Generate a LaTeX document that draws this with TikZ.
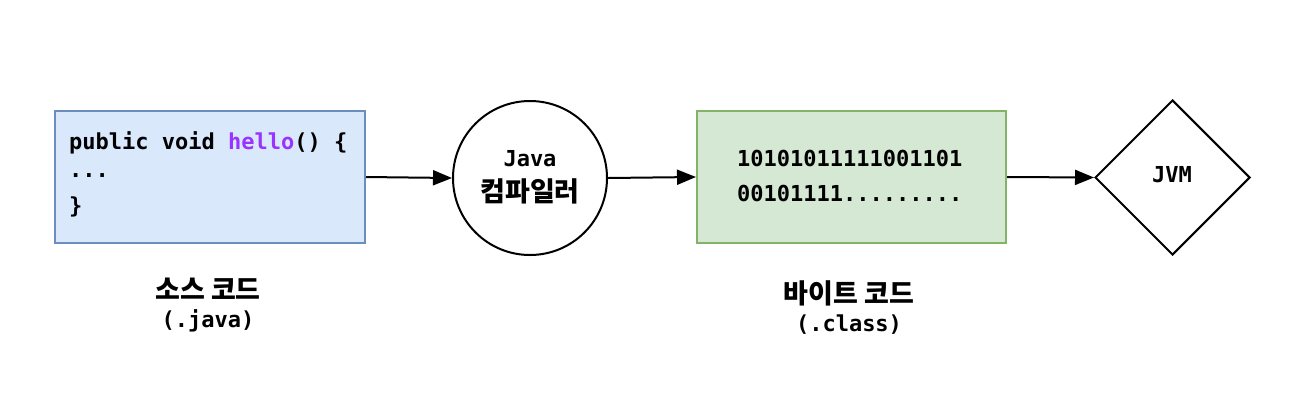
\documentclass[tikz,border=0pt]{standalone}
\usepackage{fontspec}
\setmonofont{DejaVu Sans Mono}
\newfontfamily\krfont{Noto Sans CJK KR}
\usetikzlibrary{shapes.geometric,arrows.meta}
\definecolor{bluefill}{HTML}{DAE8FC}
\definecolor{blueline}{HTML}{6C8EBF}
\definecolor{greenfill}{HTML}{D5E8D4}
\definecolor{greenline}{HTML}{82B366}
\definecolor{hellocol}{HTML}{9933FF}
\tikzset{
  codebox/.style={draw=blueline, fill=bluefill, line width=2pt, minimum width=310pt, minimum height=132pt, inner sep=0pt},
  bytebox/.style={draw=greenline, fill=greenfill, line width=2pt, minimum width=309pt, minimum height=132pt, inner sep=0pt},
  compiler/.style={draw=black, circle, line width=2pt, minimum size=154pt, inner sep=0pt},
  vmshape/.style={draw=black, diamond, line width=2pt, minimum width=155pt, minimum height=155pt, inner sep=0pt},
  txt/.style={font=\ttfamily\bfseries\fontsize{22}{32}\selectfont, inner sep=0pt},
  lbl/.style={align=center, inner sep=0pt},
  conn/.style={-{Triangle[length=19pt,width=15pt]}, line width=2pt}
}
\newcommand{\kr}[1]{{\krfont\bfseries\fontsize{27}{32}\selectfont #1}}
\begin{document}
\begin{tikzpicture}[x=1pt,y=-1pt]
\useasboundingbox (0,0) rectangle (1295,392);
\fill[white] (0,0) rectangle (1295,392);
\node[codebox] (src) at (210,177) {};
\node[compiler] (comp) at (530,178) {};
\node[bytebox] (byte) at (851.5,177) {};
\node[vmshape] (jvm) at (1172.5,177.5) {};
% code text
\node[txt, anchor=west] (l1) at (69,143) {public void \textcolor{hellocol}{hello}() \{};
\node[txt, anchor=west] (l2) at (69,176) {...};
\node[txt, anchor=west] (l3) at (69,207) {\}};
% compiler text
\node[txt] (java) at (530,159) {Java};
\node[inner sep=0pt] (kc) at (530,191) {\kr{컴파일러}};
% bytes
\node[txt, anchor=west] (b1) at (737,158) {10101011111001101};
\node[txt, anchor=west] (b2) at (737,193) {00101111.........};
\node[txt] (jvmt) at (1172,175) {JVM};
% labels
\node[inner sep=0pt] (srcl) at (208,289) {\kr{소스 코드}};
\node[txt] (srce) at (208,321) {(.java)};
\node[inner sep=0pt] (bytel) at (849,293) {\kr{바이트 코드}};
\node[txt] (bytee) at (849,325) {(.class)};
% connectors
\draw[conn] (src.east) -- (comp.west);
\draw[conn] (comp.east) -- (byte.west);
\draw[conn] (byte.east) -- (jvm.west);
\end{tikzpicture}
\end{document}
